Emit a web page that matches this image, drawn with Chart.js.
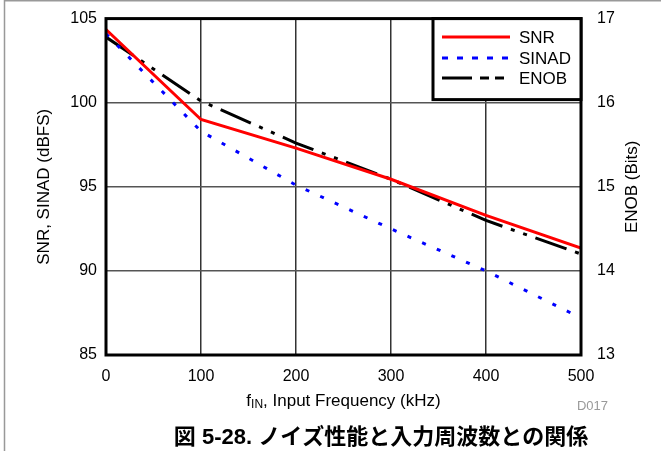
<!DOCTYPE html>
<html>
<head>
<meta charset="utf-8">
<script src="https://cdn.jsdelivr.net/npm/chart.js@4"></script>
<style>
  html, body { margin: 0; padding: 0; background: #fff; }
  #wrap { width: 661px; height: 451px; position: relative; }
</style>
</head>
<body>
<div id="wrap"><canvas id="noise" width="661" height="451"></canvas></div>
<script>
const freqs = [0, 100, 200, 300, 400, 500];
const snr = [104.35, 99.0, 97.3, 95.45, 93.3, 91.35];
const sinad = [104.1, 98.3, 95.1, 92.5, 90.0, 87.2];
const enob = [16.78, 16.02, 15.52, 15.09, 14.6, 14.2];

const leftTicks = [85, 90, 95, 100, 105];
const rightTicks = [13, 14, 15, 16, 17];
const xTicks = [0, 100, 200, 300, 400, 500];

const FONT = "'Liberation Sans', Arial, Helvetica, sans-serif";

function pts(ys) {
  return freqs.map((f, i) => ({ x: f, y: ys[i] }));
}

// frame, titles, legend box -- drawn by hand
const decor = {
  id: "decor",
  afterDraw(chart) {
    const ctx = chart.ctx;
    const a = chart.chartArea;
    ctx.save();

    // grey page frame (left + top)
    ctx.strokeStyle = "#999";
    ctx.lineWidth = 1.5;
    ctx.beginPath();
    ctx.moveTo(4.5, 451);
    ctx.lineTo(4.5, 0.75);
    ctx.lineTo(661, 0.75);
    ctx.stroke();

    // plot border
    ctx.strokeStyle = "#000";
    ctx.lineWidth = 3;
    ctx.strokeRect(a.left, a.top, a.right - a.left, a.bottom - a.top);

    // legend
    const lx = 433, ly = a.top, lw = a.right - lx, lh = 81;
    ctx.fillStyle = "#fff";
    ctx.fillRect(lx, ly, lw, lh);
    ctx.strokeRect(lx, ly, lw, lh);
    const rows = [37, 58, 78];
    chart.data.datasets.forEach((ds, i) => {
      ctx.strokeStyle = ds.borderColor;
      ctx.lineWidth = ds.borderWidth;
      ctx.setLineDash(ds.legendDash);
      ctx.beginPath();
      ctx.moveTo(442, rows[i]);
      ctx.lineTo(510, rows[i]);
      ctx.stroke();
      ctx.setLineDash([]);
      ctx.fillStyle = "#000";
      ctx.font = "17px " + FONT;
      ctx.textAlign = "left";
      ctx.textBaseline = "middle";
      ctx.fillText(ds.label, 519, rows[i] + 1);
    });

    // axis titles
    ctx.fillStyle = "#000";
    ctx.font = "17px " + FONT;
    ctx.textBaseline = "middle";
    const midY = (a.top + a.bottom) / 2;
    ctx.save();
    ctx.translate(44, midY);
    ctx.rotate(-Math.PI / 2);
    ctx.textAlign = "center";
    ctx.fillText("SNR, SINAD (dBFS)", 0, 0);
    ctx.restore();
    ctx.save();
    ctx.translate(632, midY);
    ctx.rotate(-Math.PI / 2);
    ctx.textAlign = "center";
    ctx.fillText("ENOB (Bits)", 0, 0);
    ctx.restore();

    // x title with subscript
    const t1 = "f", sub = "IN", t2 = ", Input Frequency (kHz)";
    ctx.font = "17px " + FONT;
    const w1 = ctx.measureText(t1).width;
    const w3 = ctx.measureText(t2).width;
    ctx.font = "12px " + FONT;
    const w2 = ctx.measureText(sub).width;
    let x = (a.left + a.right) / 2 - (w1 + w2 + w3) / 2;
    const ty = 401;
    ctx.textAlign = "left";
    ctx.font = "17px " + FONT;
    ctx.fillText(t1, x, ty);
    x += w1;
    ctx.font = "12px " + FONT;
    ctx.fillText(sub, x, ty + 4);
    x += w2;
    ctx.font = "17px " + FONT;
    ctx.fillText(t2, x, ty);

    // figure id
    ctx.fillStyle = "#999";
    ctx.font = "13px " + FONT;
    ctx.textAlign = "right";
    ctx.fillText("D017", 608, 406);

    // caption
    ctx.fillStyle = "#000";
    ctx.font = "bold 22px " + FONT + ", 'Noto Sans CJK JP'";
    ctx.textAlign = "center";
    ctx.fillText("図 5-28. ノイズ性能と入力周波数との関係", 381, 438);

    ctx.restore();
  },
};

new Chart(document.getElementById("noise"), {
  type: "line",
  data: {
    datasets: [
      {
        label: "SNR",
        data: pts(snr),
        yAxisID: "y",
        borderColor: "#ff0000",
        borderWidth: 3,
        borderDash: [],
        legendDash: [],
      },
      {
        label: "SINAD",
        data: pts(sinad),
        yAxisID: "y",
        borderColor: "#0000ff",
        borderWidth: 3,
        borderDash: [4, 12],
        legendDash: [6, 9],
      },
      {
        label: "ENOB",
        data: pts(enob),
        yAxisID: "y1",
        borderColor: "#000000",
        borderWidth: 3,
        borderDash: [33, 9, 4, 9, 4, 9],
        legendDash: [30, 8, 9, 6, 9, 6],
      },
    ],
  },
  options: {
    responsive: false,
    animation: false,
    devicePixelRatio: 1,
    layout: { padding: { top: 17, left: 0, right: 0, bottom: 0 } },
    elements: { point: { radius: 0 }, line: { tension: 0, borderCapStyle: "butt" } },
    plugins: { legend: { display: false }, tooltip: { enabled: false } },
    scales: {
      x: {
        type: "linear",
        min: 0,
        max: 500,
        afterFit: (s) => { s.height = 96; },
        afterBuildTicks: (s) => { s.ticks = xTicks.map((v) => ({ value: v })); },
        border: { display: false },
        grid: { color: "#333", lineWidth: 1.5, drawTicks: false },
        ticks: { color: "#000", padding: 12, font: { family: FONT, size: 16 } },
      },
      y: {
        position: "left",
        min: 85,
        max: 105,
        afterFit: (s) => { s.width = 106; },
        afterBuildTicks: (s) => { s.ticks = leftTicks.map((v) => ({ value: v })); },
        border: { display: false },
        grid: { color: "#555", lineWidth: 1.5, drawTicks: false },
        ticks: { color: "#000", padding: 9, font: { family: FONT, size: 16 } },
      },
      y1: {
        position: "right",
        min: 13,
        max: 17,
        afterFit: (s) => { s.width = 80; },
        afterBuildTicks: (s) => { s.ticks = rightTicks.map((v) => ({ value: v })); },
        border: { display: false },
        grid: { display: false },
        ticks: { color: "#000", padding: 8, font: { family: FONT, size: 16 } },
      },
    },
  },
  plugins: [decor],
});
</script>
</body>
</html>
